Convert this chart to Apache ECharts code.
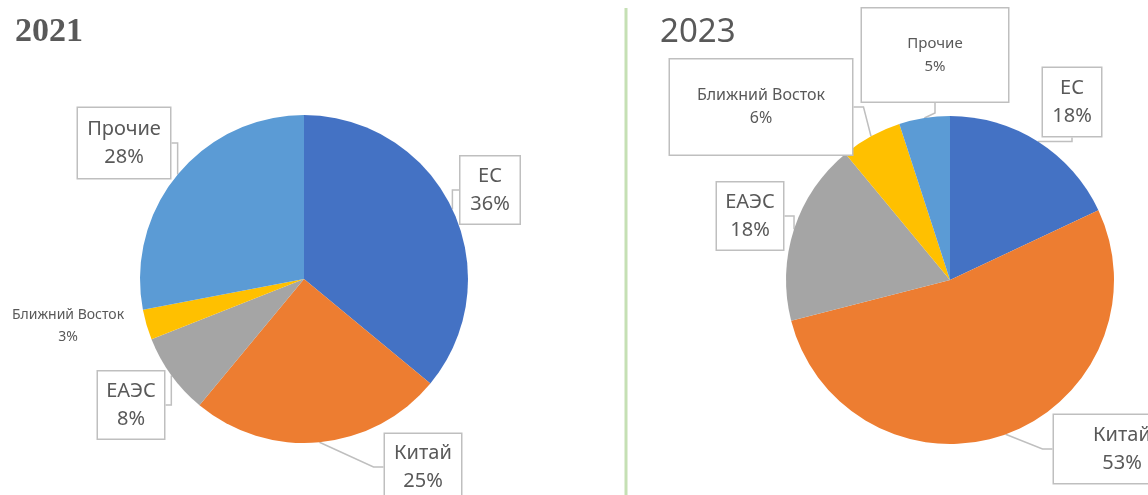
<!DOCTYPE html>
<html>
<head>
<meta charset="utf-8">
<script src="https://cdn.jsdelivr.net/npm/echarts@6/dist/echarts.min.js"></script>
<style>
    html, body { margin: 0; padding: 0; background: #fff; }
    #main { width: 1148px; height: 495px; }
</style>
</head>
<body>
<div id="main"></div>
<script>
// категории и значения
var categories = ['ЕС', 'Китай', 'ЕАЭС', 'Ближний Восток', 'Прочие'];
var values2021 = [36, 25, 8, 3, 28];
var values2023 = [18, 53, 18, 6, 5];
var colors = ['#4472C4', '#ED7D31', '#A5A5A5', '#FFC000', '#5B9BD5'];

// положение подписей (центр, ширина, высота, шрифт, межстрочный, рамка)
var labels2021 = [
    { x: 490, y: 190, w: 59, h: 67, fs: 20, lh: 28, box: true },
    { x: 423, y: 467, w: 76, h: 66, fs: 20, lh: 28, box: true },
    { x: 131, y: 405, w: 66, h: 67, fs: 20, lh: 28, box: true },
    { x: 68, y: 326, w: 120, h: 44, fs: 14, lh: 22, box: false },
    { x: 124, y: 143, w: 92, h: 70, fs: 20, lh: 28, box: true }
];
var labels2023 = [
    { x: 1072, y: 102, w: 58, h: 68, fs: 20, lh: 28, box: true },
    { x: 1122, y: 449, w: 136, h: 68, fs: 20, lh: 28, box: true },
    { x: 750, y: 216, w: 66, h: 67, fs: 20, lh: 28, box: true },
    { x: 761, y: 107, w: 182, h: 95, fs: 16, lh: 23, box: true },
    { x: 935, y: 55, w: 146, h: 93, fs: 15, lh: 23, box: true }
];

function buildData(values, lbl) {
    var arr = [];
    for (var i = 0; i < values.length; i++) {
        var l = lbl[i];
        arr.push({
            name: categories[i],
            value: values[i],
            itemStyle: { color: colors[i] },
            label: {
                width: l.w,
                height: l.h,
                fontSize: l.fs,
                lineHeight: l.lh,
                borderColor: l.box ? '#BFBFBF' : 'transparent',
                borderWidth: l.box ? 1.5 : 0,
                backgroundColor: l.box ? '#fff' : 'transparent'
            },
            labelLine: { show: l.box }
        });
    }
    return arr;
}

function makePie(values, lbl, center) {
    return {
        type: 'pie',
        radius: 164,
        center: center,
        startAngle: 90,
        clockwise: true,
        avoidLabelOverlap: false,
        animation: false,
        silent: true,
        data: buildData(values, lbl),
        label: {
            show: true,
            position: 'outside',
            formatter: '{b}\n{c}%',
            color: '#595959',
            fontFamily: 'Noto Sans',
            align: 'center',
            verticalAlign: 'middle',
            padding: 0
        },
        labelLine: {
            show: true,
            length: 10,
            length2: 10,
            lineStyle: { color: '#BFBFBF', width: 1.5 }
        },
        labelLayout: function (params) {
            var l = lbl[params.dataIndex];
            return { x: l.x, y: l.y, align: 'center', verticalAlign: 'middle' };
        }
    };
}

var myChart = echarts.init(document.getElementById('main'));
var option = {
    backgroundColor: '#fff',
    title: [{
        text: '2021',
        left: 10,
        top: 10,
        textStyle: { fontFamily: 'Liberation Serif', fontWeight: 'bold', fontSize: 34, color: '#595959' }
    }, {
        text: '2023',
        left: 655,
        top: 11,
        textStyle: { fontFamily: 'Noto Sans', fontWeight: 'normal', fontSize: 33, color: '#595959' }
    }],
    graphic: [{
        type: 'line',
        shape: { x1: 626, y1: 8, x2: 626, y2: 495 },
        style: { stroke: '#C5E0B4', lineWidth: 3 }
    }],
    series: [
        makePie(values2021, labels2021, [304, 279]),
        makePie(values2023, labels2023, [950, 280])
    ]
};
myChart.setOption(option);
</script>
</body>
</html>
